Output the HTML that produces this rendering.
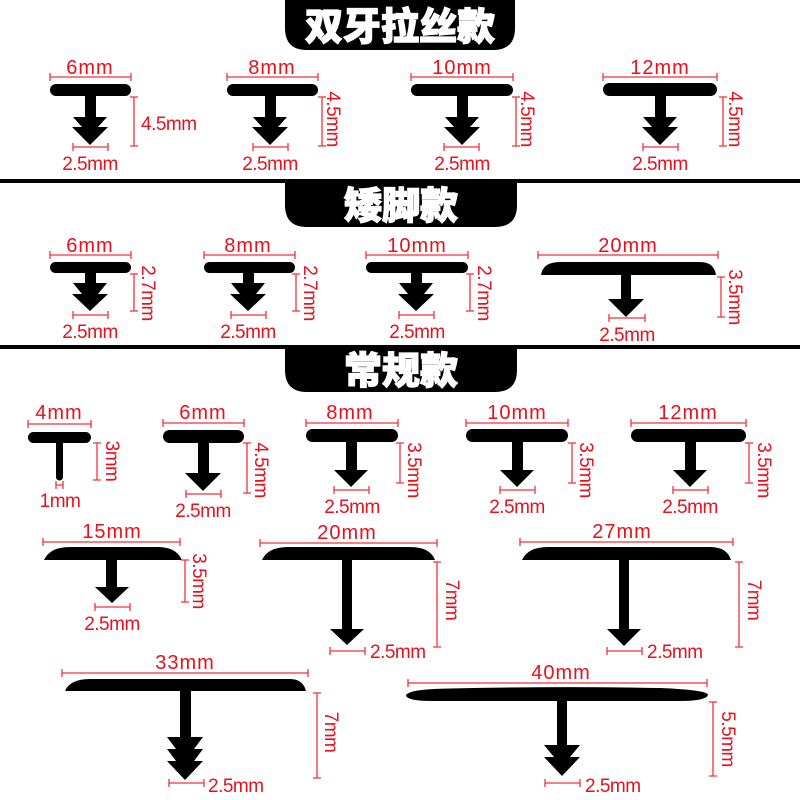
<!DOCTYPE html>
<html><head><meta charset="utf-8"><style>
html,body{margin:0;padding:0;background:#fff}
svg{display:block}
.t{font-family:"Liberation Sans","Noto Sans CJK SC",sans-serif;fill:#e8101c;font-size:19px;letter-spacing:-0.5px}
.w{font-size:20px;letter-spacing:1px}
.h{font-family:"Noto Sans CJK SC","WenQuanYi Zen Hei",sans-serif;fill:#fff;stroke:#fff;stroke-width:1.2;font-weight:900;font-size:38px}
.d{stroke:#f0323c;stroke-width:1.3;fill:none}
</style></head><body>
<svg width="800" height="800" viewBox="0 0 800 800" xmlns="http://www.w3.org/2000/svg">
<!-- headers -->
<path d="M285,0 L515,0 L515,28 Q515,50 493,50 L307,50 Q285,50 285,28 Z" fill="#000"/>
<text class="h" x="400" y="40" text-anchor="middle">双牙拉丝款</text>
<rect x="0" y="179" width="800" height="4" fill="#000"/>
<path d="M285,180 L517,180 L517,205 Q517,227 495,227 L307,227 Q285,227 285,205 Z" fill="#000"/>
<text class="h" x="401" y="219" text-anchor="middle">矮脚款</text>
<rect x="0" y="345" width="800" height="4" fill="#000"/>
<path d="M285,346 L517,346 L517,370 Q517,392 495,392 L307,392 Q285,392 285,370 Z" fill="#000"/>
<text class="h" x="401" y="384" text-anchor="middle">常规款</text>

<!-- ===== Section 1 ===== -->
<g fill="#000">
<rect x="50" y="84" width="81" height="12" rx="6"/>
<polygon points="85,96 96,96 96,117 107,117 98,127 108,127 90,145 72,127 82,127 73,117 85,117"/>
<rect x="227" y="84" width="91" height="12" rx="6"/>
<polygon points="265,96 276,96 276,117 287,117 278,127 288,127 270,145 252,127 262,127 253,117 265,117"/>
<rect x="411" y="84" width="102" height="12" rx="6"/>
<polygon points="457,96 468,96 468,117 479,117 470,127 480,127 462,145 444,127 454,127 445,117 457,117"/>
<rect x="603" y="83" width="114" height="13" rx="6.5"/>
<polygon points="655,96 666,96 666,117 677,117 668,127 678,127 660,145 642,127 652,127 643,117 655,117"/>
</g>
<g class="d">
<path d="M50,77H131M50,73V81M131,73V81"/>
<path d="M134,97V146M130,97H138M130,146H138"/>
<path d="M73,147H108M73,143V151M108,143V151"/>
<path d="M227,77H318M227,73V81M318,73V81"/>
<path d="M322,97V146M318,97H326M318,146H326"/>
<path d="M253,147H288M253,143V151M288,143V151"/>
<path d="M411,77H513M411,73V81M513,73V81"/>
<path d="M516,97V146M512,97H520M512,146H520"/>
<path d="M444,147H479M444,143V151M479,143V151"/>
<path d="M603,77H717M603,73V81M717,73V81"/>
<path d="M723,97V146M719,97H727M719,146H727"/>
<path d="M643,147H678M643,143V151M678,143V151"/>
</g>
<g class="t">
<text class="w" x="90" y="74" text-anchor="middle">6mm</text>
<text x="141" y="130">4.5mm</text>
<text x="90" y="170" text-anchor="middle">2.5mm</text>
<text class="w" x="272" y="74" text-anchor="middle">8mm</text>
<text transform="translate(327,119) rotate(90)" text-anchor="middle">4.5mm</text>
<text x="270" y="170" text-anchor="middle">2.5mm</text>
<text class="w" x="462" y="74" text-anchor="middle">10mm</text>
<text transform="translate(521,119) rotate(90)" text-anchor="middle">4.5mm</text>
<text x="462" y="170" text-anchor="middle">2.5mm</text>
<text class="w" x="660" y="74" text-anchor="middle">12mm</text>
<text transform="translate(729,119) rotate(90)" text-anchor="middle">4.5mm</text>
<text x="660" y="170" text-anchor="middle">2.5mm</text>
</g>

<!-- ===== Section 2 ===== -->
<g fill="#000">
<rect x="50" y="262" width="81" height="11" rx="5.5"/>
<polygon points="85,273 96,273 96,283 107,283 98,294 108,294 90,311 72,294 82,294 73,283 85,283"/>
<rect x="204" y="262" width="91" height="11" rx="5.5"/>
<polygon points="243,273 254,273 254,283 265,283 256,294 266,294 248,311 230,294 240,294 231,283 243,283"/>
<rect x="366" y="262" width="102" height="11" rx="5.5"/>
<polygon points="411,273 422,273 422,283 433,283 424,294 434,294 416,311 398,294 408,294 399,283 411,283"/>
<path d="M541,275 Q543,262 560,262 L700,262 Q714,262 716,275 Z"/>
<polygon points="621,275 631,275 631,299 644,299 626,317 608,299 621,299"/>
</g>
<g class="d">
<path d="M50,255H131M50,251V259M131,251V259"/>
<path d="M134,274V311M130,274H138M130,311H138"/>
<path d="M73,315H108M73,311V319M108,311V319"/>
<path d="M204,255H295M204,251V259M295,251V259"/>
<path d="M296,274V311M292,274H300M292,311H300"/>
<path d="M231,315H266M231,311V319M266,311V319"/>
<path d="M366,255H468M366,251V259M468,251V259"/>
<path d="M470,274V311M466,274H474M466,311H474"/>
<path d="M399,315H434M399,311V319M434,311V319"/>
<path d="M538,255H718M538,251V259M718,251V259"/>
<path d="M721,277V317M717,277H725M717,317H725"/>
<path d="M609,318H645M609,314V322M645,314V322"/>
</g>
<g class="t">
<text class="w" x="90" y="252" text-anchor="middle">6mm</text>
<text transform="translate(142,293) rotate(90)" text-anchor="middle">2.7mm</text>
<text x="90" y="338" text-anchor="middle">2.5mm</text>
<text class="w" x="248" y="252" text-anchor="middle">8mm</text>
<text transform="translate(304,293) rotate(90)" text-anchor="middle">2.7mm</text>
<text x="248" y="338" text-anchor="middle">2.5mm</text>
<text class="w" x="417" y="252" text-anchor="middle">10mm</text>
<text transform="translate(478,293) rotate(90)" text-anchor="middle">2.7mm</text>
<text x="417" y="338" text-anchor="middle">2.5mm</text>
<text class="w" x="628" y="252" text-anchor="middle">20mm</text>
<text transform="translate(729,297) rotate(90)" text-anchor="middle">3.5mm</text>
<text x="627" y="341" text-anchor="middle">2.5mm</text>
</g>

<!-- ===== Section 3 row 1 ===== -->
<g fill="#000">
<rect x="28" y="432" width="63" height="11" rx="5.5"/>
<path d="M56,440 H63 V477 A3.5,3.5 0 0 1 56,477 Z"/>
<rect x="163" y="430" width="81" height="13" rx="6.5"/>
<polygon points="198,443 209,443 209,473 221,473 203,491 185,473 198,473"/>
<rect x="306" y="429" width="92" height="13" rx="6.5"/>
<polygon points="346,442 357,442 357,470 368,470 351,487 334,470 346,470"/>
<rect x="466" y="429" width="102" height="13" rx="6.5"/>
<polygon points="512,442 523,442 523,470 534,470 517,487 500,470 512,470"/>
<rect x="631" y="429" width="115" height="13" rx="6.5"/>
<polygon points="685,442 696,442 696,470 707,470 690,487 673,470 685,470"/>
</g>
<g class="d">
<path d="M28,424H91M28,420V428M91,420V428"/>
<path d="M97,443V480M93,443H101M93,480H101"/>
<path d="M56,485H63M56,481V489M63,481V489"/>
<path d="M163,423H244M163,419V427M244,419V427"/>
<path d="M247,443V493M243,443H251M243,493H251"/>
<path d="M186,494H221M186,490V498M221,490V498"/>
<path d="M306,423H398M306,419V427M398,419V427"/>
<path d="M400,443V483M396,443H404M396,483H404"/>
<path d="M334,490H369M334,486V494M369,486V494"/>
<path d="M466,423H568M466,419V427M568,419V427"/>
<path d="M572,443V483M568,443H576M568,483H576"/>
<path d="M500,490H535M500,486V494M535,486V494"/>
<path d="M631,423H746M631,419V427M746,419V427"/>
<path d="M749,443V483M745,443H753M745,483H753"/>
<path d="M673,490H708M673,486V494M708,486V494"/>
</g>
<g class="t">
<text class="w" x="59" y="419" text-anchor="middle">4mm</text>
<text transform="translate(106,461) rotate(90)" text-anchor="middle">3mm</text>
<text x="60" y="507" text-anchor="middle">1mm</text>
<text class="w" x="203" y="419" text-anchor="middle">6mm</text>
<text transform="translate(255,470) rotate(90)" text-anchor="middle">4.5mm</text>
<text x="203" y="517" text-anchor="middle">2.5mm</text>
<text class="w" x="350" y="419" text-anchor="middle">8mm</text>
<text transform="translate(408,470) rotate(90)" text-anchor="middle">3.5mm</text>
<text x="352" y="513" text-anchor="middle">2.5mm</text>
<text class="w" x="517" y="419" text-anchor="middle">10mm</text>
<text transform="translate(580,470) rotate(90)" text-anchor="middle">3.5mm</text>
<text x="517" y="513" text-anchor="middle">2.5mm</text>
<text class="w" x="688" y="419" text-anchor="middle">12mm</text>
<text transform="translate(758,470) rotate(90)" text-anchor="middle">3.5mm</text>
<text x="690" y="513" text-anchor="middle">2.5mm</text>
</g>

<!-- ===== Section 3 row 2 ===== -->
<g fill="#000">
<path d="M44,560 Q50,547 70,547 L158,547 Q176,547 182,560 Z"/>
<polygon points="106,560 117,560 117,587 129,587 112,603 95,587 106,587"/>
<path d="M262,560 Q268,547 288,547 L410,547 Q430,547 435,560 Z"/>
<polygon points="342,560 352,560 352,629 364,629 347,645 330,629 342,629"/>
<path d="M522,560 Q528,547 548,547 L710,547 Q727,547 731,560 Z"/>
<polygon points="619,560 629,560 629,629 641,629 624,646 607,629 619,629"/>
</g>
<g class="d">
<path d="M43,542H180M43,538V546M180,538V546"/>
<path d="M185,560V602M181,560H189M181,602H189"/>
<path d="M95,607H130M95,603V611M130,603V611"/>
<path d="M260,543H437M260,539V547M437,539V547"/>
<path d="M437,562V647M433,562H441M433,647H441"/>
<path d="M330,651H365M330,647V655M365,647V655"/>
<path d="M520,542H733M520,538V546M733,538V546"/>
<path d="M739,562V647M735,562H743M735,647H743"/>
<path d="M607,651H642M607,647V655M642,647V655"/>
</g>
<g class="t">
<text class="w" x="112" y="538" text-anchor="middle">15mm</text>
<text transform="translate(193,581) rotate(90)" text-anchor="middle">3.5mm</text>
<text x="112" y="630" text-anchor="middle">2.5mm</text>
<text class="w" x="347" y="539" text-anchor="middle">20mm</text>
<text transform="translate(446,600) rotate(90)" text-anchor="middle">7mm</text>
<text x="370" y="658">2.5mm</text>
<text class="w" x="622" y="538" text-anchor="middle">27mm</text>
<text transform="translate(748,600) rotate(90)" text-anchor="middle">7mm</text>
<text x="647" y="658">2.5mm</text>
</g>

<!-- ===== Section 3 row 3 ===== -->
<g fill="#000">
<path d="M65,691 Q70,679 90,679 L290,679 Q303,679 306,691 Z"/>
<polygon points="180,691 191,691 191,737 203,737 194,749 203,749 194,761 203,761 185,780 167,761 176,761 167,749 176,749 167,737 180,737"/>
<path d="M406,695 Q410,689 450,688.5 Q560,686 660,688 Q708,690 708,695 Q706,701 680,701 L432,701 Q406,701 406,695 Z"/>
<polygon points="557,701 567,701 567,745 580,745 570,757 580,757 562,776 544,757 554,757 544,745 557,745"/>
</g>
<g class="d">
<path d="M62,673H308M62,669V677M308,669V677"/>
<path d="M317,693V778M313,693H321M313,778H321"/>
<path d="M169,783H204M169,779V787M204,779V787"/>
<path d="M408,683H707M408,679V687M707,679V687"/>
<path d="M713,702V776M709,702H717M709,776H717"/>
<path d="M545,783H580M545,779V787M580,779V787"/>
</g>
<g class="t">
<text class="w" x="185" y="669" text-anchor="middle">33mm</text>
<text transform="translate(325,732) rotate(90)" text-anchor="middle">7mm</text>
<text x="208" y="792">2.5mm</text>
<text class="w" x="561" y="679" text-anchor="middle">40mm</text>
<text transform="translate(722,739) rotate(90)" text-anchor="middle">5.5mm</text>
<text x="585" y="792">2.5mm</text>
</g>
</svg>
</body></html>
